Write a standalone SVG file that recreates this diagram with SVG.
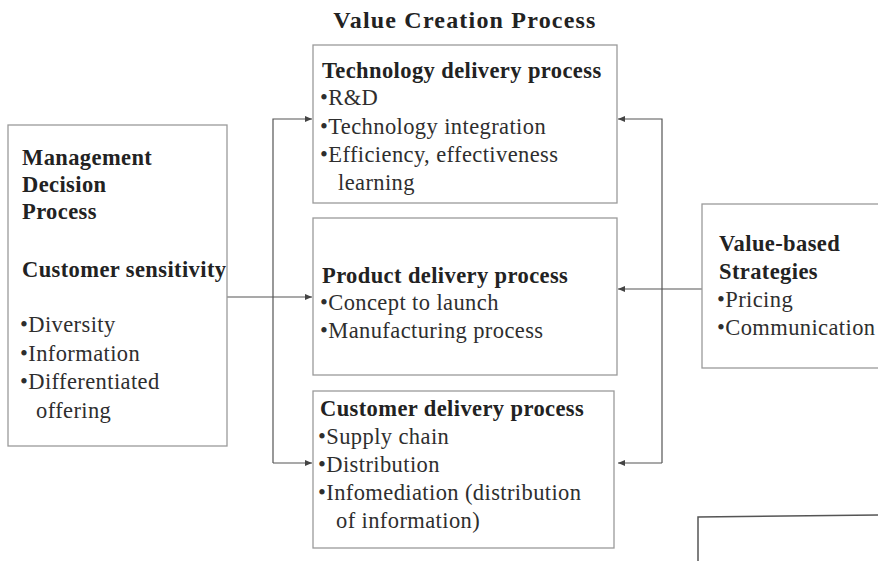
<svg xmlns="http://www.w3.org/2000/svg" width="878" height="561" viewBox="0 0 878 561">
  <style>
    .box { fill: #ffffff; stroke: #9a9a9a; stroke-width: 1.3; }
    .t { font-family: "Liberation Serif", "Times New Roman", serif; font-size: 22.5px; letter-spacing: 0.4px; fill: #2e2e2e; }
    .b { font-weight: bold; fill: #222; }
    .title { font-size: 24px; letter-spacing: 1.2px; }
    .line { fill: none; stroke: #555; stroke-width: 1.2; }
  </style>
  <defs>
    <marker id="arrow" markerWidth="8" markerHeight="8" refX="7" refY="4" orient="auto" markerUnits="userSpaceOnUse">
      <path d="M0,1 L7,4 L0,7 Z" fill="#444"/>
    </marker>
  </defs>
  <rect width="878" height="561" fill="#ffffff"/>

  <text class="t b title" x="465" y="28" text-anchor="middle">Value Creation Process</text>

  <g id="connectors">
    <!-- left distribution bus -->
    <path class="line" d="M273,463 L273,119 L312,119" marker-end="url(#arrow)"/>
    <path class="line" d="M273,463 L312,463" marker-end="url(#arrow)"/>
    <path class="line" d="M227,297 L312,297" marker-end="url(#arrow)"/>
    <!-- right feedback bus -->
    <path class="line" d="M662,463 L662,119 L618,119" marker-end="url(#arrow)"/>
    <path class="line" d="M662,463 L618,463" marker-end="url(#arrow)"/>
    <path class="line" d="M702,289 L618,289" marker-end="url(#arrow)"/>
  </g>

  <g id="management">
    <rect class="box" x="8" y="125" width="219" height="321"/>
    <text class="t b" x="22" y="165">Management</text>
    <text class="t b" x="22" y="192">Decision</text>
    <text class="t b" x="22" y="219">Process</text>
    <text class="t b" x="22" y="277">Customer sensitivity</text>
    <text class="t" x="20" y="332">•Diversity</text>
    <text class="t" x="20" y="361">•Information</text>
    <text class="t" x="20" y="389">•Differentiated</text>
    <text class="t" x="36" y="418">offering</text>
  </g>

  <g id="technology">
    <rect class="box" x="313" y="45" width="304" height="158"/>
    <text class="t b" x="322" y="78">Technology delivery process</text>
    <text class="t" x="320" y="105">•R&amp;D</text>
    <text class="t" x="320" y="134">•Technology integration</text>
    <text class="t" x="320" y="162">•Efficiency, effectiveness</text>
    <text class="t" x="338" y="190">learning</text>
  </g>

  <g id="product">
    <rect class="box" x="313" y="218" width="304" height="157"/>
    <text class="t b" x="322" y="283">Product delivery process</text>
    <text class="t" x="320" y="310">•Concept to launch</text>
    <text class="t" x="320" y="338">•Manufacturing process</text>
  </g>

  <g id="customer">
    <rect class="box" x="313" y="391" width="301" height="157"/>
    <text class="t b" x="320" y="416">Customer delivery process</text>
    <text class="t" x="318" y="444">•Supply chain</text>
    <text class="t" x="318" y="472">•Distribution</text>
    <text class="t" x="318" y="500">•Infomediation (distribution</text>
    <text class="t" x="336" y="528">of information)</text>
  </g>

  <g id="strategies">
    <rect class="box" x="702" y="204" width="190" height="164"/>
    <text class="t b" x="719" y="251">Value-based</text>
    <text class="t b" x="719" y="279">Strategies</text>
    <text class="t" x="717" y="307">•Pricing</text>
    <text class="t" x="717" y="335">•Communication</text>
  </g>

  <g id="partial-box">
    <path d="M698,561 L698,517 L878,515" fill="none" stroke="#555" stroke-width="1.5"/>
  </g>
</svg>
